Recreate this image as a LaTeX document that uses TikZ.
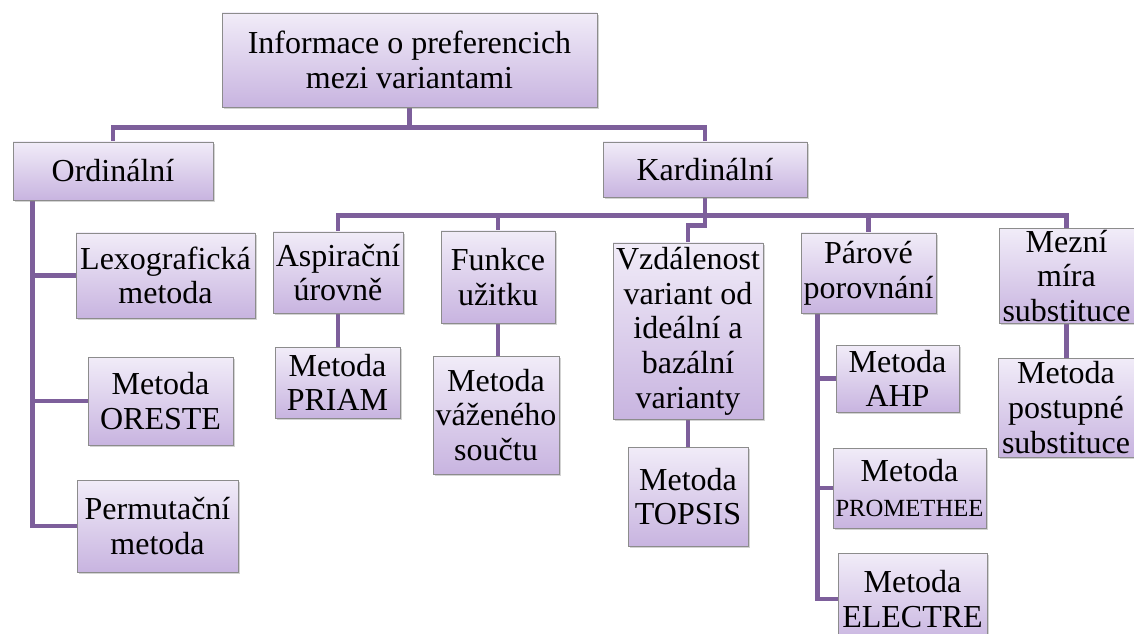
\documentclass[tikz,border=0pt]{standalone}
\usepackage{fontspec}
\setmainfont{LiberationSerif}[Extension=.ttf, UprightFont=*-Regular, BoldFont=*-Bold]
\usetikzlibrary{shadows,backgrounds}
\definecolor{boxtop}{HTML}{F1ECF8}
\definecolor{boxbot}{HTML}{C8B4E0}
\definecolor{linkc}{HTML}{7D5F9B}

\begin{document}
\begin{tikzpicture}[x=0.75pt,y=-0.75pt,
    box/.style={draw=black!45, line width=0.6pt, top color=boxtop, bottom color=boxbot,
	align=center, inner sep=1pt, font=\fontsize{24}{26}\selectfont,
	drop shadow={shadow xshift=1.5pt, shadow yshift=-1.5pt, opacity=.35}},
    link/.style={draw=linkc, line width=3.6pt}]
    \useasboundingbox (0,0) rectangle (1134,634);
    \node[box, minimum width=281.25pt, minimum height=70.5pt] (root) at (409.5,60) {Informace o preferencich\\mezi variantami};
    \node[box, minimum width=150pt, minimum height=43.5pt] (ord) at (113,171) {Ordinální};
    \node[box, minimum width=153pt, minimum height=41.25pt] (kard) at (705,169.5) {Kardinální};
    \node[box, minimum width=134.25pt, minimum height=63.75pt] (lex) at (165.5,275.5) {Lexografická\\metoda};
    \node[box, minimum width=108.75pt, minimum height=66pt] (ore) at (160.5,401) {Metoda\\ORESTE};
    \node[box, minimum width=120.75pt, minimum height=69pt] (perm) at (157.5,526) {Permutační\\metoda};
    \node[box, minimum width=97.5pt, minimum height=60.75pt] (asp) at (338,272.5) {Aspirační\\úrovně};
    \node[box, minimum width=85.5pt, minimum height=69pt] (fun) at (498,277) {Funkce\\užitku};
    \node[box, minimum width=112.5pt, minimum height=132pt] (vzd) at (688,331) {Vzdálenost\\variant od\\ideální a\\bazální\\varianty};
    \node[box, minimum width=101.25pt, minimum height=60pt] (par) at (868.5,273) {Párové\\porovnání};
    \node[box, minimum width=101.25pt, minimum height=66pt] (mez) at (1066.5,276) {Mezní\\míra\\substituce};
    \node[box, minimum width=93.75pt, minimum height=53.25pt] (priam) at (337.5,382.5) {Metoda\\PRIAM};
    \node[box, minimum width=94.5pt, minimum height=88.5pt] (vaz) at (496,415) {Metoda\\váženého\\součtu};
    \node[box, minimum width=90pt, minimum height=74.25pt] (top) at (688,496.5) {Metoda\\TOPSIS};
    \node[box, minimum width=92.25pt, minimum height=50.25pt] (ahp) at (897.5,378.5) {Metoda\\AHP};
    \node[box, minimum width=114.75pt, minimum height=60pt] (prom) at (909.5,488) {Metoda\\{\fontsize{18.5}{20}\selectfont PROMETHEE}};
    \node[box, minimum width=111.75pt, minimum height=69pt] (ele) at (912.5,599) {Metoda\\ELECTRE};
    \node[box, minimum width=102pt, minimum height=74.25pt] (pos) at (1066,407.5) {Metoda\\postupné\\substituce};
    \begin{scope}[on background layer]
	\draw[link] (root.south) -- ++(0,20) -| (ord.north);
	\draw[link] (root.south) -- ++(0,20) -| (kard.north);
	\draw[link] (ord.south west) ++(20,0) |- (lex.west);
	\draw[link] (ord.south west) ++(20,0) |- (ore.west);
	\draw[link] (ord.south west) ++(20,0) |- (perm.west);
	\foreach \n in {asp,fun,par,mez}
	    \draw[link] (kard.south) -- ++(0,18) -| (\n.north);
	\draw[link] (kard.south) -- ++(0,28) -| (vzd.north);
	\draw[link] (asp.south) -- (asp.south |- priam.north);
	\draw[link] (fun.south) -- (fun.south |- vaz.north);
	\draw[link] (vzd.south) -- (vzd.south |- top.north);
	\draw[link] (mez.south) -- (mez.south |- pos.north);
	\foreach \n in {ahp,prom,ele}
	    \draw[link] (par.south west) ++(17,0) |- (\n.west);
    \end{scope}
\end{tikzpicture}
\end{document}
